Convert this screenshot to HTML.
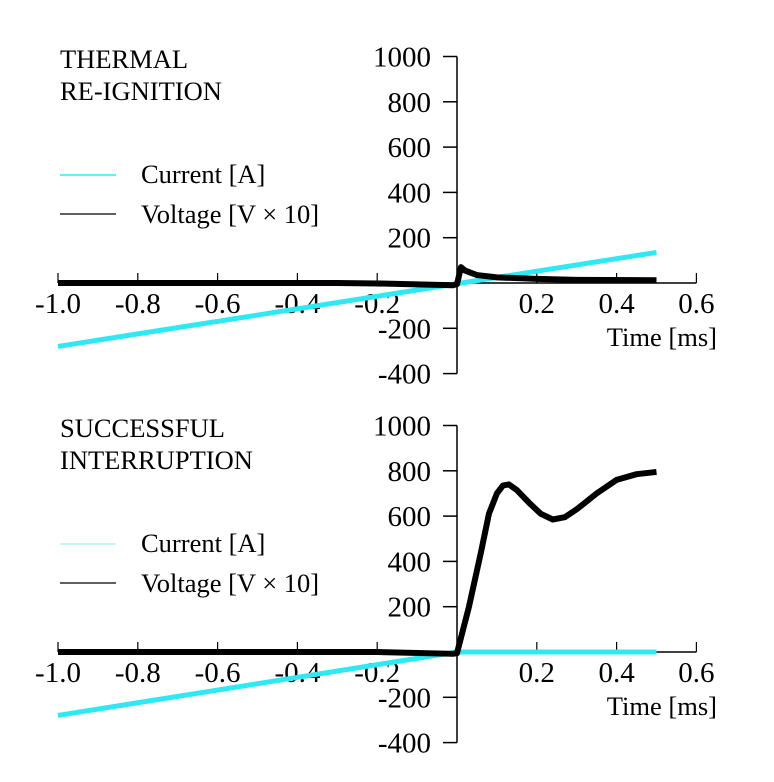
<!DOCTYPE html>
<html><head><meta charset="utf-8">
<style>
body{margin:0;background:#fff}
svg{display:block}
text{font-family:"Liberation Serif",serif;fill:#000}
</style></head>
<body>
<svg id="chart" width="774" height="782" xmlns="http://www.w3.org/2000/svg"></svg>
<script>
// Shared axes
const xTicks = [-1.0,-0.8,-0.6,-0.4,-0.2,0.2,0.4,0.6];
const xTickLabels = ["-1.0","-0.8","-0.6","-0.4","-0.2","0.2","0.4","0.6"];
const yTicks = [1000,800,600,400,200,-200,-400];
const yTickLabels = ["1000","800","600","400","200","-200","-400"];
// Top panel (thermal re-ignition)
const topCurrentT = [-1.0, 0.5];
const topCurrentV = [-280, 135];
const topVoltageT = [-1.0,-0.3,-0.2,-0.1,-0.01,0.0,0.01,0.02,0.05,0.1,0.2,0.3,0.5];
const topVoltageV = [0,0,-2,-6,-10,-5,70,55,35,25,18,14,12];
// Bottom panel (successful interruption)
const botCurrentT = [-1.0, 0.0, 0.5];
const botCurrentV = [-280, 0, 0];
const botVoltageT = [-1.0,-0.2,-0.01,0.0,0.03,0.06,0.08,0.1,0.115,0.13,0.15,0.18,0.21,0.24,0.27,0.3,0.35,0.4,0.45,0.5];
const botVoltageV = [0,0,-8,-5,200,440,610,700,735,740,715,660,610,585,595,630,700,760,785,795];

const svg = document.getElementById('chart');
const NS = 'http://www.w3.org/2000/svg';
function mk(tag, attrs, parent){const e=document.createElementNS(NS,tag);for(const k in attrs)e.setAttribute(k,attrs[k]);(parent||svg).appendChild(e);return e;}

function panel(name, y0, title1, title2, curT, curV, volT, volV, curColor){
  const g = mk('g',{});
  
  
  const xs = t => 457 + t*399;
  const ys = v => y0 - v*0.2265;
  const ya = mk('line',{x1:457,y1:ys(1000),x2:457,y2:ys(-400),stroke:'#000','stroke-width':1.5},g);
  
  
  yTicks.forEach((v,i)=>{
    mk('line',{x1:443,y1:ys(v),x2:457,y2:ys(v),stroke:'#000','stroke-width':1.5},g);
    const t = mk('text',{x:431,y:ys(v)+10,'text-anchor':'end','font-size':29},g);
    t.textContent = yTickLabels[i];
    
    
  });
  const xa = mk('line',{x1:xs(-1),y1:y0,x2:xs(0.6),y2:y0,stroke:'#000','stroke-width':1.5},g);
  
  
  xTicks.forEach((v,i)=>{
    mk('line',{x1:xs(v),y1:y0,x2:xs(v),y2:y0-10,stroke:'#000','stroke-width':1.2},g);
    const t = mk('text',{x:xs(v),y:y0+30,'text-anchor':'middle','font-size':29},g);
    t.textContent = xTickLabels[i];
    
    
  });
  const xt = mk('text',{x:717,y:y0+63,'text-anchor':'end','font-size':26.5},g);
  xt.textContent = 'Time [ms]';
  
  
  const t1 = mk('text',{x:60,y:y0-215,'font-size':26.5},g); t1.textContent = title1;
  
  
  const t2 = mk('text',{x:60,y:y0-183,'font-size':26.5},g); t2.textContent = title2;
  
  
  mk('line',{x1:60,y1:y0-108,x2:116,y2:y0-108,stroke:curColor,'stroke-width':1.2},g);
  const l1 = mk('text',{x:141,y:y0-100,'font-size':26.5},g); l1.textContent='Current [A]';
  
  
  mk('line',{x1:60,y1:y0-69,x2:116,y2:y0-69,stroke:'#000','stroke-width':1.2},g);
  const l2 = mk('text',{x:141,y:y0-60,'font-size':26.5},g); l2.textContent='Voltage [V × 10]';
  
  
  const cp = mk('polyline',{points:curT.map((t,i)=>xs(t)+','+ys(curV[i])).join(' '),fill:'none',stroke:'#30e8f4','stroke-width':5},g);
  
  
  const vp = mk('polyline',{points:volT.map((t,i)=>xs(t)+','+ys(volV[i])).join(' '),fill:'none',stroke:'#000','stroke-width':6,'stroke-linejoin':'round'},g);
  
  
}
panel('top-panel', 283, 'THERMAL', 'RE-IGNITION', topCurrentT, topCurrentV, topVoltageT, topVoltageV, '#00e8f0');
panel('bottom-panel', 652, 'SUCCESSFUL', 'INTERRUPTION', botCurrentT, botCurrentV, botVoltageT, botVoltageV, '#9ef0f4');
</script>
</body></html>
